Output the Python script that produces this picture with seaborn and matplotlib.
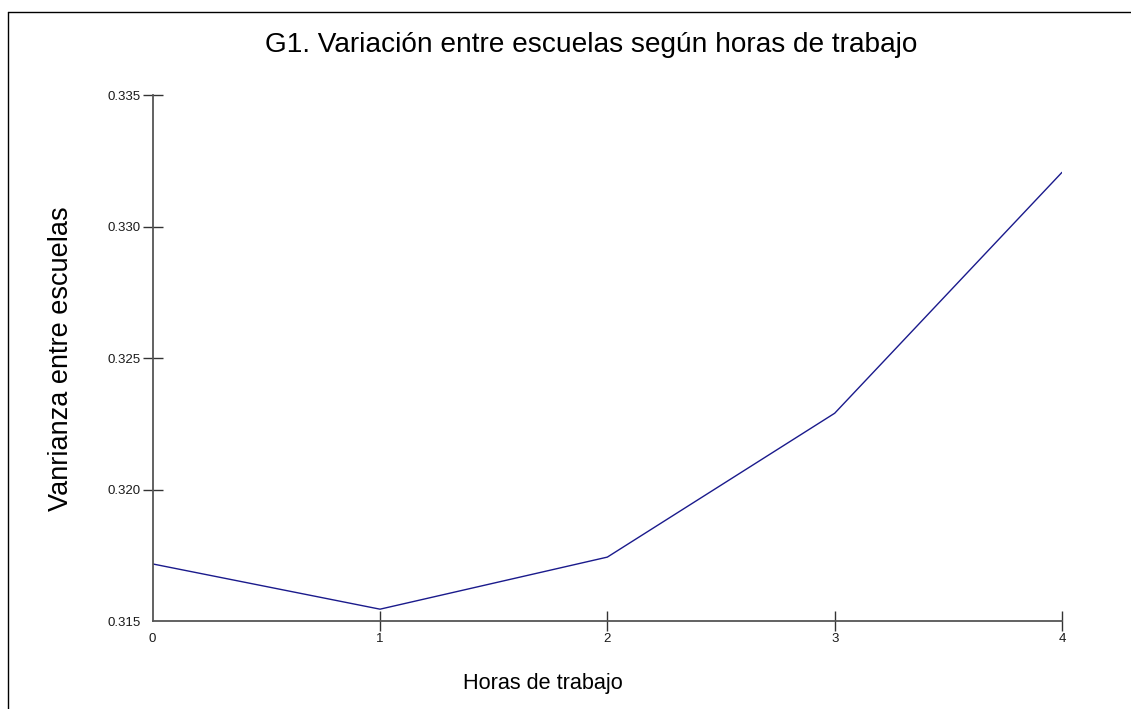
import pandas as pd
import matplotlib.pyplot as plt
import seaborn as sns
from matplotlib.lines import Line2D

# data
horas = [0, 1, 2, 3, 4]
varianza = [0.31717, 0.31545, 0.31743, 0.32290, 0.33206]
y_ticks = [0.315, 0.320, 0.325, 0.330, 0.335]

titulo = 'G1. Variación entre escuelas según horas de trabajo'
x_label = 'Horas de trabajo'
y_label = 'Vanrianza entre escuelas'


def plot_variacion():
    sns.set_style('white')
    plt.rcParams['font.family'] = ['Liberation Sans', 'DejaVu Sans']
    plt.rcParams['text.color'] = 'black'
    df = pd.DataFrame({'horas': horas, 'varianza': varianza})

    fig = plt.figure(figsize=(11.31, 7.09), dpi=100)
    ax = fig.add_axes([0.135, 0.1241, 0.804, 0.7419])
    sns.lineplot(data=df, x='horas', y='varianza', ax=ax, color='#1a1a8c', linewidth=1.0)

    ax.set_xlim(0, 4)
    ax.set_ylim(0.315, 0.335)
    ax.set_xticks(horas)
    ax.set_yticks(y_ticks)
    ax.set_xticklabels([str(h) for h in horas])
    ax.set_yticklabels([f'{v:.3f}' for v in y_ticks])
    ax.tick_params(axis='both', bottom=True, left=True, direction='inout', length=15, width=1,
                   color='#333333', labelsize=9.5, labelcolor='#1a1a1a', pad=1)
    # first ticks have no mark in the original
    ax.xaxis.get_major_ticks()[0].tick1line.set_visible(False)
    ax.yaxis.get_major_ticks()[0].tick1line.set_visible(False)

    for side in ['top', 'right']:
        ax.spines[side].set_visible(False)
    for side in ['left', 'bottom']:
        ax.spines[side].set_color('#555555')
        ax.spines[side].set_linewidth(1.3)
    ax.set_xlabel('')
    ax.set_ylabel('')

    fig.text(591 / 1131, 1 - 45 / 709, titulo, ha='center', va='center', fontsize=20.2, color='black')
    fig.text(543 / 1131, 1 - 683 / 709, x_label, ha='center', va='center', fontsize=15.6, color='black')
    fig.text(61 / 1131, 1 - 359 / 709, y_label, ha='center', va='center', rotation=90,
             fontsize=19.5, color='black')

    # frame: only top and left edges visible
    fig.add_artist(Line2D([8 / 1131, 8 / 1131], [0, 1 - 12 / 709], color='black', linewidth=1))
    fig.add_artist(Line2D([8 / 1131, 1], [1 - 12 / 709, 1 - 12 / 709], color='black', linewidth=1))

    fig.savefig('out.png', dpi=100)
    plt.close(fig)


if __name__ == '__main__':
    plot_variacion()
